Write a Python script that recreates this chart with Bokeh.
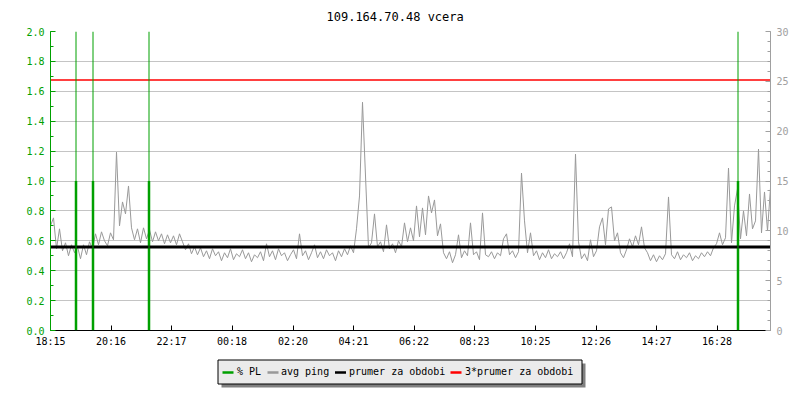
import numpy as np
from bokeh.plotting import figure
from bokeh.models import Range1d, LinearAxis, FixedTicker, Span, NumeralTickFormatter
from bokeh.layouts import column
from bokeh.core.properties import value
from bokeh.embed import file_html
from bokeh.resources import INLINE

# ---------------- data ----------------
title_text = "109.164.70.48 vcera"
time_labels = ["18:15", "20:16", "22:17", "00:18", "02:20", "04:21",
               "06:22", "08:23", "10:25", "12:26", "14:27", "16:28"]
step_min = 6  # avg ping sampled every 6 minutes from 18:15
avg_ping_ms = [
    10.5, 11.3, 8.2, 10.2, 8.0, 8.8, 7.5, 8.6, 7.8, 8.4,
    7.2, 8.6, 7.6, 8.9, 8.2, 9.7, 8.6, 9.9, 9.0, 8.5,
    9.8, 9.1, 17.9, 10.5, 12.9, 11.7, 14.5, 10.3, 9.1, 10.2,
    8.8, 10.3, 9.2, 10.1, 8.9, 9.9, 9.0, 9.7, 8.7, 9.6,
    8.8, 9.5, 8.6, 9.7, 8.9, 8.1, 8.7, 7.7, 8.4, 7.6,
    8.3, 7.4, 8.0, 7.2, 8.2, 7.5, 7.9, 7.0, 7.8, 7.3,
    8.2, 7.1, 7.7, 7.4, 8.1, 7.2, 7.8, 6.9, 7.6, 7.3,
    7.9, 7.0, 8.7, 7.4, 8.0, 7.1, 8.2, 7.5, 7.8, 7.0,
    7.6, 8.1, 7.2, 9.7, 7.5, 8.0, 7.1, 7.8, 8.6, 7.3,
    7.9, 7.2, 8.1, 7.5, 7.8, 7.0, 8.0, 7.4, 8.2, 7.6,
    8.5, 7.8, 10.2, 13.5, 22.9, 15.5, 8.3, 8.8, 11.7, 8.4,
    8.9, 7.9, 10.6, 8.2, 8.7, 7.8, 9.0, 8.4, 10.8, 8.9,
    10.3, 9.0, 12.5, 9.4, 12.3, 9.6, 13.5, 11.8, 13.1, 9.5,
    10.7, 7.8, 7.2, 7.9, 6.8, 7.6, 9.6, 7.3, 8.0, 7.5,
    10.8, 7.6, 7.9, 7.1, 11.8, 7.6, 7.4, 7.9, 7.2, 7.8,
    7.5, 9.2, 9.7, 7.6, 8.0, 7.3, 7.9, 15.8, 11.0, 7.8,
    9.8, 7.5, 8.0, 7.1, 7.8, 7.3, 8.1, 7.2, 7.7, 7.4,
    7.9, 7.2, 7.8, 8.7, 7.4, 17.7, 8.9, 7.2, 7.7, 7.0,
    9.1, 7.4, 8.0, 10.4, 11.3, 8.6, 12.2, 12.4, 9.0, 9.8,
    7.8, 7.3, 8.1, 9.2, 8.4, 9.5, 8.6, 10.4, 8.3, 7.8,
    7.0, 7.6, 6.9, 7.5, 7.1, 7.7, 13.4, 7.6, 7.2, 7.9,
    7.1, 7.6, 7.3, 7.8, 7.0, 7.5, 7.2, 7.8, 7.4, 7.9,
    7.5, 8.3, 8.7, 9.8, 8.6, 9.3, 16.3, 8.8, 12.5, 14.2,
    9.2, 12.0, 9.5, 13.7, 10.2, 11.0, 18.2, 9.8, 13.9, 10.0,
    14.3,
]
pl_minutes = [51, 85, 197, 1375]      # minutes after 18:15
pl_percent = [1.0, 1.0, 1.0, 1.0]
mean_ping_ms = 8.38
legend_labels = ["% PL", "avg ping", "prumer za obdobi", "3*prumer za obdobi"]

# ---------------- styles ----------------
GREEN = "#00a000"
GRAY = "#999999"
AXGRAY = "#a0a0a0"
GRID = "#c4c4c4"
RED = "#ff0000"
FONT = "DejaVu Sans Mono"

ping_t = np.arange(len(avg_ping_ms)) * step_min
tick_pos = [((int(s[:2]) * 60 + int(s[3:])) - (18 * 60 + 15)) % 1440 for s in time_labels]
total_min = 1440

p = figure(width=800, height=350, output_backend="svg", toolbar_location=None,
           x_range=Range1d(0, total_min), y_range=Range1d(0, 2.0),
           min_border_left=50, min_border_right=30, min_border_top=30, min_border_bottom=20,
           x_axis_location=None, y_axis_location=None)
p.extra_y_ranges = {"ms": Range1d(0, 30)}
p.outline_line_color = None

p.title.text = title_text
p.title.text_font = FONT
p.title.text_font_size = "12px"
p.title.text_font_style = "normal"
p.title.align = "left"
p.title.offset = 276
p.title.standoff = 15
p.title.text_color = "black"

# axes
left = LinearAxis(ticker=FixedTicker(ticks=[round(0.2 * i, 1) for i in range(11)],
                                     minor_ticks=[round(0.1 * i, 1) for i in range(21)]),
                  formatter=NumeralTickFormatter(format="0.0"))
left.axis_line_color = GREEN
left.major_tick_line_color = GREEN
left.minor_tick_line_color = GREEN
left.major_label_text_color = GREEN
left.major_tick_in = 5
left.major_tick_out = 0
left.minor_tick_in = 3
left.minor_tick_out = 0
left.major_label_standoff = 6
left.major_label_text_font = FONT
left.major_label_text_font_size = "10px"
p.add_layout(left, "left")

right = LinearAxis(y_range_name="ms",
                   ticker=FixedTicker(ticks=list(range(0, 31, 5)), minor_ticks=list(range(0, 31))))
right.axis_line_color = AXGRAY
right.major_tick_line_color = AXGRAY
right.minor_tick_line_color = AXGRAY
right.major_label_text_color = AXGRAY
right.major_tick_in = 5
right.major_tick_out = 0
right.minor_tick_in = 3
right.minor_tick_out = 0
right.major_label_standoff = 6
right.major_label_text_font = FONT
right.major_label_text_font_size = "10px"
p.add_layout(right, "right")

bottom = LinearAxis(ticker=FixedTicker(ticks=tick_pos, minor_ticks=[]))
bottom.major_label_overrides = {t: s for t, s in zip(tick_pos, time_labels)}
bottom.axis_line_color = "black"
bottom.major_tick_line_color = "black"
bottom.major_tick_in = 5
bottom.major_tick_out = 0
bottom.minor_tick_line_color = None
bottom.major_label_standoff = 5
bottom.major_label_text_font = FONT
bottom.major_label_text_font_size = "10px"
bottom.major_label_text_color = "black"
p.add_layout(bottom, "below")

p.xgrid.visible = False
p.ygrid.ticker = left.ticker
p.ygrid.grid_line_color = GRID
p.ygrid.grid_line_width = 1

# series
p.line(ping_t, avg_ping_ms, y_range_name="ms", line_color=GRAY, line_width=1)
for t in pl_minutes:
    p.add_layout(Span(location=t, dimension="height", line_color=GREEN, line_width=1))
p.segment(x0=pl_minutes, y0=[0] * len(pl_minutes), x1=pl_minutes, y1=pl_percent,
          line_color=GREEN, line_width=2.5)
p.line([0, total_min], [mean_ping_ms, mean_ping_ms], y_range_name="ms",
       line_color="black", line_width=3)
p.line([0, total_min], [3 * mean_ping_ms, 3 * mean_ping_ms], y_range_name="ms",
       line_color=RED, line_width=1.5)

# ---------------- legend strip (coordinates in page pixels) ----------------
leg = figure(width=800, height=48, output_backend="svg", toolbar_location=None,
             x_range=Range1d(50, 770), y_range=Range1d(398, 350),
             min_border_left=50, min_border_right=30, min_border_top=0, min_border_bottom=0,
             x_axis_location=None, y_axis_location=None)
leg.outline_line_color = None
leg.xgrid.visible = False
leg.ygrid.visible = False
leg.quad(left=[221], right=[585], top=[363], bottom=[387], fill_color="#808080", line_color=None)
leg.quad(left=[217.5], right=[581.5], top=[359.5], bottom=[383.5], fill_color="#ebebeb",
         line_color="black", line_width=1)
sw_x0 = [222, 267, 334.5, 450]
sw_col = [GREEN, GRAY, "black", RED]
txt_x = [236.5, 280.5, 348.5, 464.5]
leg.segment(x0=sw_x0, y0=[372] * 4, x1=[x + 11 for x in sw_x0], y1=[372] * 4,
            line_color=sw_col, line_width=2.5)
leg.text(x=txt_x, y=[371] * 4, text=legend_labels, text_font=value(FONT),
         text_font_size="10px", text_baseline="middle", text_align="left", text_color="black")

layout = column(p, leg, spacing=0)
open("out.html", "w").write(file_html(layout, INLINE))
